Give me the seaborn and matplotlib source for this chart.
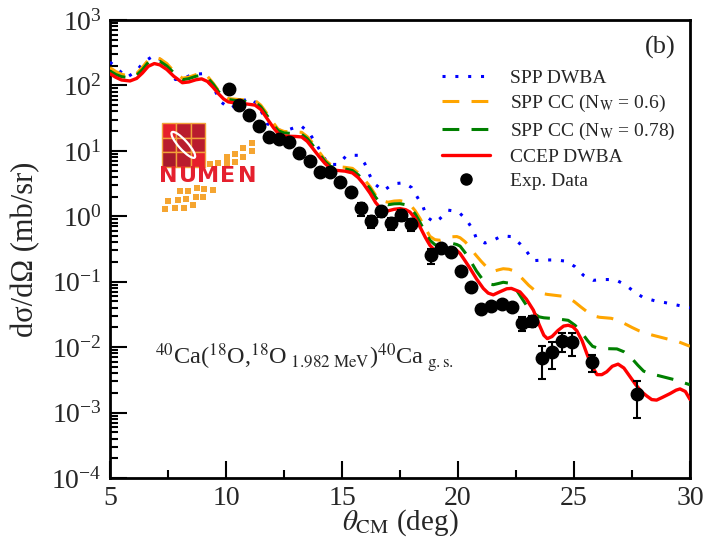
import matplotlib
matplotlib.use("Agg")
import matplotlib.pyplot as plt
from matplotlib.lines import Line2D
from matplotlib.patches import Rectangle, Ellipse
from matplotlib.ticker import LogLocator, NullFormatter
import seaborn as sns
import pandas as pd

# ---- calculated angular distributions (theta_CM in deg, dsigma/dOmega in mb/sr) ----
theta_dwba = [5.00, 5.30, 5.72, 6.15, 6.45, 6.88, 7.30, 7.82, 8.20, 8.55, 9.00, 9.55,
              9.78, 10.17, 10.60, 11.03, 11.40, 11.77, 12.30, 12.75, 13.22, 13.60, 14.05,
              14.40, 14.85, 15.20, 15.70, 15.98, 16.20, 16.42, 16.78, 17.21, 17.67, 18.00,
              18.25, 18.50, 18.65, 19.00, 19.22, 19.58, 20.01, 20.38, 20.66, 20.80, 21.16,
              21.52, 21.88, 22.31, 22.67, 22.96, 23.25, 23.75, 24.25, 24.68, 25.04, 25.40,
              25.83, 26.26, 26.77, 27.20, 27.56, 27.99, 28.49, 28.92, 29.43, 30.00]
sigma_dwba = [228, 183, 132, 167, 228, 284, 234, 123, 129, 148, 151, 80,
              56, 44, 55, 65, 50, 26, 20.6, 21.4, 24.4, 18.6, 10.2,
              6.2, 6.2, 8.55, 8.55, 6.4, 4.2, 3.1, 2.45, 3.14, 3.25, 2.75,
              1.95, 1.38, 0.98, 0.80, 0.92, 1.24, 1.18, 0.87, 0.61, 0.45, 0.39,
              0.43, 0.50, 0.49, 0.38, 0.29, 0.21, 0.215, 0.215, 0.205, 0.17, 0.126,
              0.105, 0.108, 0.108, 0.090, 0.072, 0.057, 0.051, 0.048, 0.044, 0.040]

theta_cc060 = [5.00, 5.25, 5.50, 5.86, 6.15, 6.40, 6.65, 6.91, 7.15, 7.45, 7.75, 8.12,
               8.40, 8.70, 8.95, 9.20, 9.45, 9.67, 9.90, 10.10, 10.53, 10.90, 11.25, 11.50,
               11.82, 12.05, 12.25, 12.50, 12.69, 13.00, 13.26, 13.50, 13.69, 14.00, 14.27,
               14.50, 14.70, 15.13, 15.45, 15.70, 15.92, 16.21, 16.45, 16.64, 16.98, 17.25,
               17.50, 17.75, 17.93, 18.15, 18.36, 18.60, 18.79, 19.00, 19.22, 19.50, 19.74,
               19.95, 20.09, 20.30, 20.52, 20.75, 21.00, 21.25, 21.52, 21.75, 21.95, 22.20,
               22.40, 22.60, 22.80, 23.05, 23.30, 23.55, 23.85, 24.50, 24.75, 25.00, 25.30,
               25.60, 25.85, 26.10, 26.60, 26.90, 27.15, 27.50, 27.80, 28.10, 28.40, 29.00,
               29.50, 30.00]
sigma_cc060 = [187, 163, 148, 138, 152, 190, 245, 269, 256, 216, 165, 129,
               134, 146, 151, 138, 108, 84, 69, 63, 61, 60, 59, 50,
               35, 26.5, 21.4, 19.8, 19.6, 19.5, 19.2, 16.5, 13.8, 9.8, 7.3,
               6.2, 5.8, 5.6, 5.4, 4.6, 3.8, 2.85, 2.1, 1.76, 1.64, 1.71,
               1.73, 1.66, 1.52, 1.22, 0.93, 0.65, 0.494, 0.44, 0.43, 0.46, 0.486,
               0.49, 0.47, 0.41, 0.336, 0.26, 0.205, 0.165, 0.144, 0.152, 0.158, 0.155,
               0.147, 0.128, 0.109, 0.088, 0.074, 0.067, 0.064, 0.060, 0.056, 0.050, 0.041,
               0.034, 0.030, 0.0286, 0.0276, 0.0258, 0.0232, 0.020, 0.0178, 0.0163, 0.0152, 0.0134,
               0.0121, 0.0103]

theta_cc078 = [5.00, 5.25, 5.50, 5.86, 6.15, 6.40, 6.65, 6.91, 7.15, 7.45, 7.75, 8.12,
               8.40, 8.70, 8.95, 9.20, 9.45, 9.67, 9.90, 10.10, 10.53, 10.90, 11.25, 11.50,
               11.82, 12.05, 12.25, 12.50, 12.69, 13.00, 13.26, 13.50, 13.69, 14.00, 14.27,
               14.50, 14.70, 15.13, 15.45, 15.70, 15.92, 16.21, 16.45, 16.64, 16.98, 17.25,
               17.50, 17.75, 17.93, 18.15, 18.36, 18.60, 18.79, 19.00, 19.22, 19.50, 19.74,
               19.95, 20.09, 20.30, 20.52, 20.80, 21.09, 21.30, 21.52, 21.75, 21.95, 22.20,
               22.40, 22.75, 23.00, 23.25, 23.50, 23.70, 24.25, 24.75, 25.05, 25.35, 25.60,
               25.80, 26.05, 26.30, 26.85, 27.15, 27.45, 27.75, 28.00, 28.30, 28.60, 29.30,
               30.00]
sigma_cc078 = [166, 147, 136, 131, 143, 175, 225, 246, 234, 198, 156, 122,
               127, 138, 143, 131, 104, 81, 67, 61, 58, 57, 56, 47,
               32.6, 24.8, 20.3, 18.8, 18.6, 18.3, 17.9, 15.4, 12.8, 9.2, 6.9,
               5.8, 5.5, 5.3, 5.0, 4.3, 3.55, 2.65, 1.95, 1.62, 1.50, 1.55,
               1.56, 1.50, 1.37, 1.09, 0.81, 0.56, 0.43, 0.37, 0.35, 0.37, 0.386,
               0.37, 0.35, 0.28, 0.213, 0.145, 0.105, 0.093, 0.090, 0.094, 0.098, 0.095,
               0.087, 0.056, 0.041, 0.033, 0.029, 0.0281, 0.0271, 0.0257, 0.0215, 0.0163, 0.0124,
               0.0103, 0.0096, 0.0095, 0.0094, 0.0085, 0.0070, 0.0053, 0.0043, 0.0039, 0.0037, 0.0032,
               0.00266]

theta_ccep = [5.00, 5.25, 5.50, 5.86, 6.15, 6.40, 6.65, 6.91, 7.15, 7.45, 7.75, 8.12,
              8.40, 8.70, 8.95, 9.20, 9.45, 9.67, 9.90, 10.10, 10.53, 10.90, 11.25, 11.50,
              11.82, 12.05, 12.25, 12.50, 12.69, 13.00, 13.26, 13.50, 13.69, 14.00, 14.27,
              14.50, 14.70, 15.13, 15.45, 15.70, 15.92, 16.21, 16.45, 16.64, 16.98, 17.25,
              17.50, 17.75, 17.93, 18.15, 18.36, 18.60, 18.79, 19.00, 19.22, 19.50, 19.74,
              19.95, 20.09, 20.30, 20.52, 20.80, 21.09, 21.30, 21.52, 21.80, 22.10, 22.30,
              22.67, 22.95, 23.25, 23.50, 23.70, 23.85, 24.05, 24.31, 24.55, 24.75, 24.95,
              25.12, 25.35, 25.55, 25.75, 25.99, 26.20, 26.41, 26.65, 26.90, 27.15, 27.40,
              27.65, 27.90, 28.13, 28.35, 28.56, 28.80, 29.14, 29.40, 29.57, 29.80, 30.00]
sigma_ccep = [151, 133, 121, 117, 128, 155, 196, 216, 206, 175, 138, 110,
              113, 122, 126, 115, 93, 75, 62, 56, 53, 52, 50, 43,
              29.4, 22.5, 18.4, 16.9, 16.7, 16.6, 16.3, 14.0, 11.5, 8.3, 6.4,
              5.4, 5.05, 4.9, 4.6, 3.9, 3.15, 2.25, 1.62, 1.35, 1.21, 1.28,
              1.31, 1.26, 1.16, 0.93, 0.69, 0.47, 0.36, 0.30, 0.28, 0.30, 0.315,
              0.30, 0.27, 0.21, 0.16, 0.11, 0.079, 0.067, 0.063, 0.070, 0.078, 0.079,
              0.070, 0.054, 0.0367, 0.022, 0.0152, 0.0135, 0.0145, 0.018, 0.021, 0.0216, 0.0205,
              0.0178, 0.0125, 0.0080, 0.0053, 0.0038, 0.0038, 0.0042, 0.0051, 0.0055, 0.0048, 0.0036,
              0.0027, 0.0021, 0.0018, 0.00158, 0.00155, 0.0017, 0.00195, 0.0022, 0.0023, 0.0021, 0.00159]

# ---- measured cross sections ----
theta_exp = [10.13, 10.56, 10.99, 11.42, 11.85, 12.28, 12.72, 13.15, 13.62, 14.05, 14.48,
             14.91, 15.39, 15.82, 16.25, 16.68, 17.11, 17.54, 17.97, 18.84, 19.27, 19.70,
             20.13, 20.56, 20.99, 21.42, 21.88, 22.31, 22.75, 23.18, 23.61, 24.04, 24.48,
             24.91, 25.78, 27.73]
sigma_exp = [87.5, 49.8, 35.0, 23.8, 16.1, 15.0, 13.5, 9.2, 6.9, 4.7, 4.7,
             3.4, 2.33, 1.32, 0.84, 1.19, 0.78, 1.04, 0.755, 0.253, 0.324, 0.282,
             0.144, 0.082, 0.0378, 0.042, 0.045, 0.041, 0.0234, 0.0251, 0.00675, 0.0083, 0.0123,
             0.0118, 0.00585, 0.00194]
err_exp = [6, 3.5, 2.5, 1.7, 1.2, 1.1, 1.0, 0.8, 0.6, 0.45, 0.45,
           0.35, 0.3, 0.3, 0.18, 0.2, 0.17, 0.19, 0.16, 0.065, 0.05, 0.045,
           0.016, 0.009, 0.0045, 0.005, 0.005, 0.005, 0.0055, 0.005, 0.0035, 0.0037, 0.0039,
           0.0045, 0.0017, 0.0011]

labels = ["SPP DWBA", r"SPP CC (N$_{\mathrm{W}}$ = 0.6)", r"SPP CC (N$_{\mathrm{W}}$ = 0.78)",
          "CCEP DWBA", "Exp. Data"]
x_ticks = [5, 10, 15, 20, 25, 30]
y_exponents = [-4, -3, -2, -1, 0, 1, 2, 3]

sns.set_theme(style="ticks")
plt.rcParams["font.family"] = ["Liberation Serif", "DejaVu Serif"]
plt.rcParams["mathtext.fontset"] = "stix"
plt.rcParams["axes.unicode_minus"] = False

fig = plt.figure(figsize=(7.18, 5.48), dpi=100)
ax = fig.add_axes([110 / 718, 1 - 478 / 548, 580 / 718, 458 / 548])

curves = [
    (theta_dwba, sigma_dwba, "#0000ff", (0, (1.0, 3.2)), 2.2),
    (theta_cc060, sigma_cc060, "#ffa500", (0, (5.5, 4.0)), 2.2),
    (theta_cc078, sigma_cc078, "#008000", (0, (5.5, 4.0)), 2.2),
    (theta_ccep, sigma_ccep, "#ff0000", "-", 2.4),
]
handles = []
for tx, sy, col, ls, lw in curves:
    df = pd.DataFrame({"theta": tx, "sigma": sy})
    sns.lineplot(data=df, x="theta", y="sigma", ax=ax, color=col, lw=lw,
                 sort=False, estimator=None, zorder=3)
    ax.lines[-1].set_linestyle(ls)
    ax.lines[-1].set_solid_joinstyle("round")
    handles.append(Line2D([], [], color=col, lw=lw, linestyle=ls))

ax.errorbar(theta_exp, sigma_exp, yerr=err_exp, fmt="o", color="black",
            markersize=9, elinewidth=1.5, capsize=3, capthick=1.5, zorder=4)
handles.append(Line2D([], [], marker="o", color="black", markersize=8, linestyle="none"))

ax.set_yscale("log")
ax.set_xlim(5, 30)
ax.set_ylim(1e-4, 1e3)
ax.set_xticks(x_ticks)
ax.set_xticks([7.5, 12.5, 17.5, 22.5, 27.5], minor=True)
ax.set_xticklabels([str(t) for t in x_ticks])
ax.set_yticks([10.0 ** e for e in y_exponents])
ax.set_yticklabels([r"$\mathdefault{10^{%d}}$" % e for e in y_exponents])
ax.yaxis.set_minor_locator(LogLocator(base=10, subs=range(2, 10), numticks=20))
ax.yaxis.set_minor_formatter(NullFormatter())
ax.set_ylim(1e-4, 1e3)
ax.tick_params(which="both", direction="in", top=False, right=False, labelsize=20,
               width=1.5, color="black")
ax.tick_params(which="major", length=12, pad=6)
ax.tick_params(which="minor", length=6)
for s in ax.spines.values():
    s.set_linewidth(2.0)
    s.set_color("black")

ax.set_xlabel(r"$\theta_{\mathrm{CM}}$ (deg)", fontsize=21, labelpad=-3)
ax.set_ylabel("dσ/dΩ (mb/sr)", fontsize=22, labelpad=8)

ax.text(0.948, 0.941, "(b)", transform=ax.transAxes, fontsize=19,
        ha="center", va="center")
ax.text(0.078, 0.262,
        r"$^{40}$Ca($^{18}$O,$^{18}$O$_{\ 1.982\ \mathrm{MeV}}$)$^{40}$Ca$_{\ \mathrm{g.s.}}$",
        transform=ax.transAxes, fontsize=17.5, ha="left", va="center")

ax.legend(handles, labels, loc="upper left", bbox_to_anchor=(0.572, 0.893),
          frameon=False, fontsize=14, handlelength=2.5, handletextpad=1.0,
          labelspacing=0.33, borderpad=0, borderaxespad=0)

# ---- NUMEN logo, drawn in its own pixel-unit frame ----
lx0, lx1, ly0, ly1 = 155, 262, 118, 215
lax = fig.add_axes([lx0 / 718, 1 - ly1 / 548, (lx1 - lx0) / 718, (ly1 - ly0) / 548])
lax.set_xlim(lx0, lx1)
lax.set_ylim(ly1, ly0)
lax.axis("off")
lax.patch.set_alpha(0)

cell = 14.4
gx, gy = 161.7, 123.3
cell_colors = [["#e61f2b", "#b91c2e", "#b91c2e"],
               ["#b91c2e", "#b91c2e", "#b91c2e"],
               ["#a8192b", "#b91c2e", "#e61f2b"]]
for r in range(3):
    for c in range(3):
        lax.add_patch(Rectangle((gx + c * cell, gy + r * cell), cell, cell,
                                facecolor=cell_colors[r][c], edgecolor="#f2a23a", lw=1.0))
lax.add_patch(Ellipse((gx + 1.5 * cell, gy + 1.5 * cell), 34, 9, angle=48,
                      facecolor="none", edgecolor="white", lw=1.6))

for ch, cx in zip("NUMEN", [168.5, 188, 208, 228, 247]):
    lax.text(cx, 176, ch, color="#e5202e", fontsize=16, fontweight="bold",
             family="DejaVu Sans", ha="center", va="center")

squares = [(251.7, 142.7), (251.7, 150.7), (243.3, 147.7), (243.3, 156.7), (235, 154),
           (235, 161.7), (226.7, 156.7), (226.7, 163.3), (218.3, 162.7), (210, 164.3),
           (180, 190.7), (187.7, 190.7), (196.7, 188.3), (204.3, 189.3), (212.7, 190),
           (168.3, 200.7), (178.3, 200), (186, 199.3), (195.7, 196.7), (203.3, 196.7),
           (165, 209.3), (175, 208.3), (184.3, 208.3), (193.3, 205)]
for sx, sy in squares:
    lax.add_patch(Rectangle((sx - 3, sy - 3), 6, 6, facecolor="#f5a531", edgecolor="none"))

fig.savefig("out.png", dpi=100)
